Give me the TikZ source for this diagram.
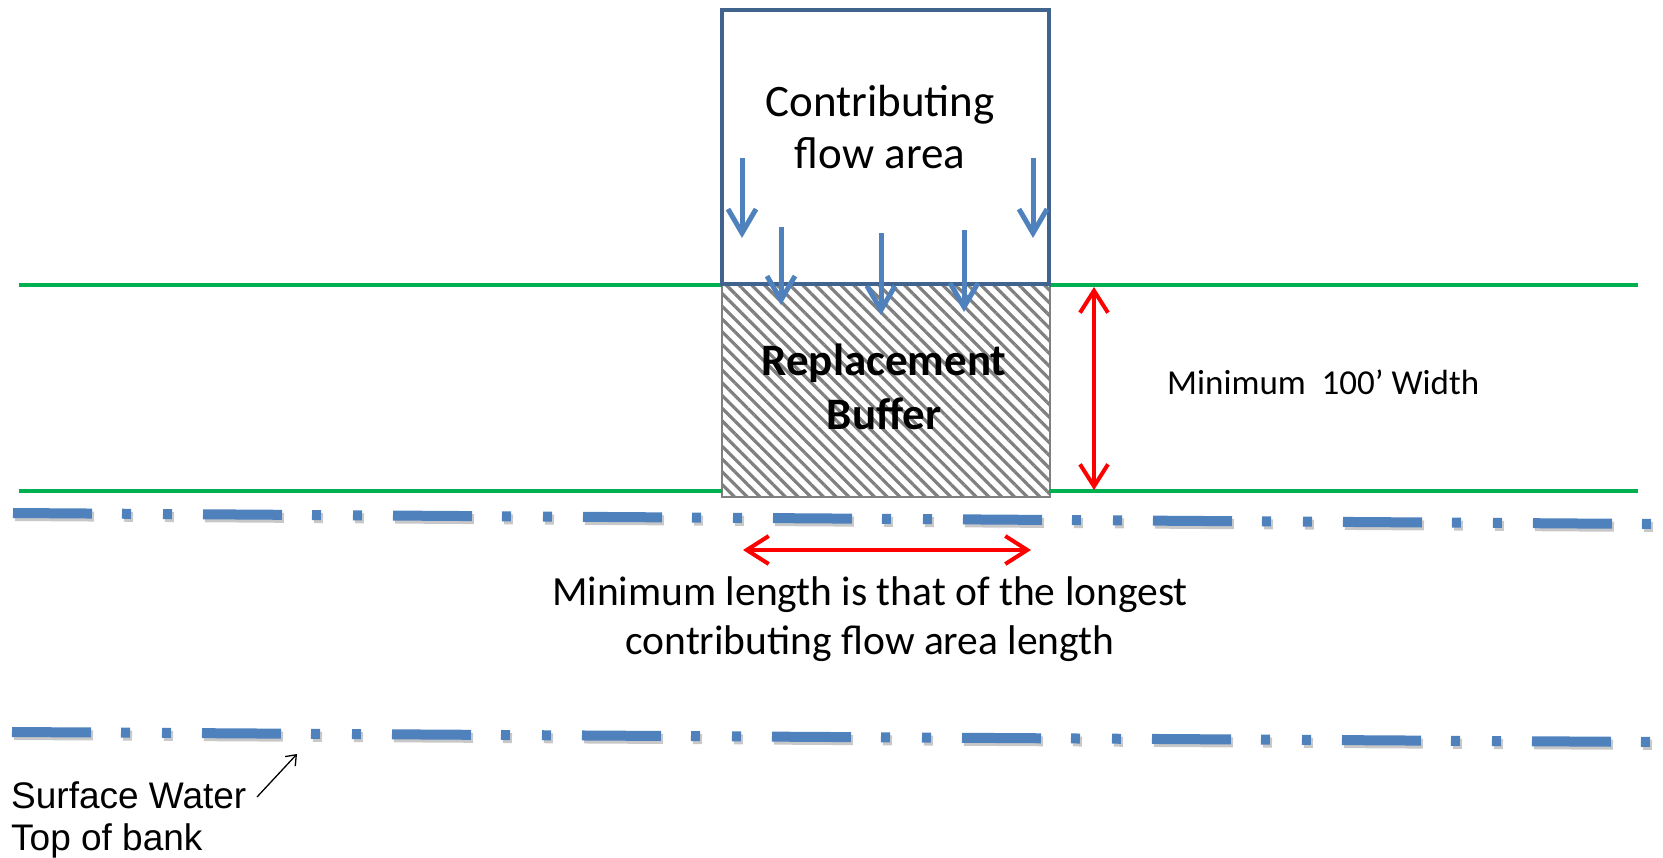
\documentclass[tikz,border=0pt]{standalone}
\usepackage{fontspec}
\setmainfont{Carlito}
\newfontfamily\arialf{Liberation Sans}
\usetikzlibrary{arrows.meta,patterns.meta}
\definecolor{boxblue}{HTML}{41648F}
\definecolor{flowblue}{HTML}{4F81BD}
\definecolor{bankgreen}{HTML}{00B050}
\definecolor{hatchgray}{HTML}{808080}
\definecolor{shadowgray}{HTML}{C8C8C8}
\tikzset{
  hatchbox/.style={draw=hatchgray, line width=2pt, inner sep=0pt, outer sep=0pt,
    pattern={Lines[angle=-45,distance=9pt,line width=3.2pt]}, pattern color=hatchgray},
  areabox/.style={draw=boxblue, line width=4.5pt, inner sep=0pt, outer sep=0pt},
  greenline/.style={draw=bankgreen, line width=4pt},
  flowarrow/.style={draw=flowblue, line width=5pt, -{Straight Barb[length=24pt,width=28pt]}},
  redarrow/.style={draw=red, line width=4pt, {Straight Barb[length=22pt,width=28pt]}-{Straight Barb[length=22pt,width=28pt]}},
  bankline/.style={draw=flowblue, line width=10pt, dash pattern=on 79pt off 30pt on 9pt off 32pt on 9pt off 31pt},
  bankshadow/.style={draw=shadowgray, line width=10pt, dash pattern=on 79pt off 30pt on 9pt off 32pt on 9pt off 31pt},
  bigtext/.style={inner sep=0pt, font=\fontsize{45pt}{52pt}\selectfont},
  buftext/.style={inner sep=0pt, font=\fontsize{45pt}{52pt}\selectfont\bfseries},
  midtext/.style={inner sep=0pt, font=\fontsize{41.5pt}{48pt}\selectfont},
  widthtext/.style={inner sep=0pt, font=\fontsize{35pt}{40pt}\selectfont},
  banktext/.style={inner sep=0pt, font=\fontsize{37pt}{42pt}\selectfont\arialf},
  pointer/.style={draw=black, line width=1.3pt, -{Straight Barb[length=9pt,width=14pt]}}
}
\begin{document}
\begin{tikzpicture}[x=1pt,y=-1pt]
\useasboundingbox (0,0) rectangle (1663,857);
% replacement buffer (hatched)
\node[hatchbox, anchor=north west, minimum width=328pt, minimum height=213pt] (buffer) at (722,284) {};
% green lines
\coordinate (gtl) at (19,285);
\coordinate (gtm) at (722,285);
\coordinate (gtr) at (1049,285);
\coordinate (gte) at (1638,285);
\coordinate (gbl) at (19,491);
\coordinate (gbm) at (722,491);
\coordinate (gbr) at (1049,491);
\coordinate (gbe) at (1638,491);
\draw[greenline] (gtl) -- (gtm);
\draw[greenline] (gtr) -- (gte);
\draw[greenline] (gbl) -- (gbm);
\draw[greenline] (gbr) -- (gbe);
% contributing flow area box
\node[areabox, anchor=north west, minimum width=327pt, minimum height=274pt] (area) at (722,10) {};
% text
\node[bigtext, anchor=base] (t1) at (880,116) {Contributing};
\node[bigtext, anchor=base] (t2) at (880,168) {flow area};
\node[buftext, anchor=base] (t3) at (884,375) {Replacement};
\node[buftext, anchor=base] (t4) at (884,429) {Buffer};
% flow arrows
\coordinate (a1s) at (742,158); \coordinate (a1e) at (742,238);
\coordinate (a2s) at (781,227); \coordinate (a2e) at (781,305);
\coordinate (a3s) at (881,233); \coordinate (a3e) at (881,315);
\coordinate (a4s) at (964,230); \coordinate (a4e) at (964,312);
\coordinate (a5s) at (1033,158); \coordinate (a5e) at (1033,238);
\draw[flowarrow] (a1s) -- (a1e);
\draw[flowarrow] (a2s) -- (a2e);
\draw[flowarrow] (a3s) -- (a3e);
\draw[flowarrow] (a4s) -- (a4e);
\draw[flowarrow] (a5s) -- (a5e);
% width arrow
\coordinate (wtop) at (1094,287);
\coordinate (wbot) at (1094,490);
\draw[redarrow] (wtop) -- (wbot);
\node[widthtext, anchor=base west] (wlab) at (1167,394) {Minimum\ \ 100’ Width};
% length arrow
\coordinate (lleft) at (743,550);
\coordinate (lright) at (1031,550);
\draw[redarrow] (lleft) -- (lright);
\node[midtext, anchor=base] (l1) at (870,605) {Minimum length is that of the longest};
\node[midtext, anchor=base] (l2) at (870,654) {contributing flow area length};
% bank lines
\coordinate (b1s) at (13,513); \coordinate (b1e) at (1653,524);
\coordinate (b2s) at (12,732); \coordinate (b2e) at (1653,742);
\draw[bankshadow] ([shift={(2,3)}]b1s) -- ([shift={(2,3)}]b1e);
\draw[bankshadow] ([shift={(2,3)}]b2s) -- ([shift={(2,3)}]b2e);
\draw[bankline] (b1s) -- (b1e);
\draw[bankline] (b2s) -- (b2e);
% surface water label
\node[banktext, anchor=base west] (s1) at (11,808) {Surface Water};
\node[banktext, anchor=base west] (s2) at (11,850) {Top of bank};
\coordinate (ptail) at (257,797);
\coordinate (phead) at (297,754);
\draw[pointer] (ptail) -- (phead);
\end{tikzpicture}
\end{document}
